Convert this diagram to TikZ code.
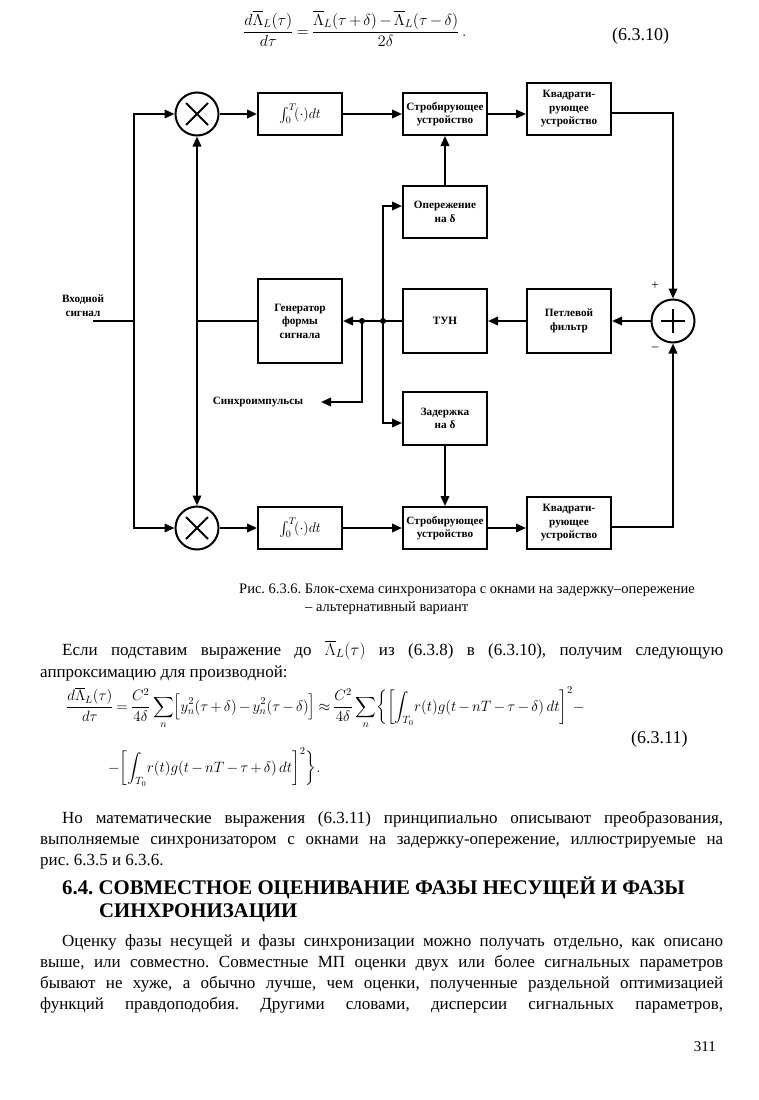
\RequirePackage{fix-cm}
\documentclass[tikz,border=0pt]{standalone}
\usepackage{exscale}
\usepackage{fontspec}
\setmainfont{Liberation Serif}
\usetikzlibrary{arrows.meta,calc}
\begin{document}
\frenchspacing
\begin{tikzpicture}[x=1pt,y=-1pt,
 blk/.style={draw,line width=2pt,minimum width=84pt,inner sep=0pt,align=center,font=\fontsize{11.2}{13.5}\selectfont\bfseries},
 ln/.style={line width=2pt},
 arr/.style={line width=2pt,-{Triangle[length=10pt,width=8.5pt]}},
 mult/.style={draw,circle,line width=2pt,minimum size=43pt,inner sep=0pt},
 jdot/.style={circle,fill,inner sep=0pt,minimum size=6pt},
 lbl/.style={inner sep=0pt,align=center,font=\fontsize{11.2}{13.5}\selectfont\bfseries},
 body/.style={anchor=base west,inner sep=0pt,font=\fontsize{17}{21}\selectfont},
 captxt/.style={anchor=base west,inner sep=0pt,font=\fontsize{14.5}{17}\selectfont},
 headtxt/.style={anchor=base west,inner sep=0pt,font=\fontsize{20.8}{25}\selectfont\bfseries},
 eqn/.style={anchor=base west,inner sep=0pt,font=\fontsize{15}{19}\selectfont},
 eqnum/.style={anchor=base west,inner sep=0pt,font=\fontsize{18}{21}\selectfont}
]
\useasboundingbox (0,0) rectangle (759,1100);
\thickmuskip=3.5mu plus 1mu
\medmuskip=2.5mu plus 1mu

% ---- equation 6.3.10
\node[eqn,font=\fontsize{16}{20}\selectfont] (eqa) at (243,36) {$\displaystyle \frac{d\overline{\Lambda}_L(\tau)}{d\tau}=\frac{\overline{\Lambda}_L(\tau+\delta)-\overline{\Lambda}_L(\tau-\delta)}{2\delta}\,.$};
\node[eqnum] (eqan) at (612,40) {(6.3.10)};

% ---- diagram nodes
\node[mult] (m1) at (197,114) {};
\node[blk,minimum height=42pt,font=\fontsize{14}{16}\selectfont] (i1) at (300,114) {$\int_0^T\!(\cdot)dt$};
\node[blk,minimum height=42pt] (s1) at (445,114) {Стробирующее\\устройство};
\node[blk,minimum height=52pt] (k1) at (569,109) {Квадрати-\\рующее\\устройство};
\node[blk,minimum height=52pt] (op) at (445,212) {Опережение\\на δ};
\node[blk,minimum height=84pt] (gen) at (300,321) {Генератор\\формы\\сигнала};
\node[blk,minimum height=64pt] (tun) at (445,321) {ТУН};
\node[blk,minimum height=64pt] (pf) at (569,321) {Петлевой\\фильтр};
\node[mult] (sum) at (673,321) {};
\node[blk,minimum height=53pt] (zd) at (445,418.5) {Задержка\\на δ};
\node[mult] (m2) at (197,528) {};
\node[blk,minimum height=42pt,font=\fontsize{14}{16}\selectfont] (i2) at (300,528) {$\int_0^T\!(\cdot)dt$};
\node[blk,minimum height=42pt] (s2) at (445,528) {Стробирующее\\устройство};
\node[blk,minimum height=52pt] (k2) at (569,523) {Квадрати-\\рующее\\устройство};

% symbols inside circles
\draw[ln] ($(m1)+(-11,-11)$) -- ($(m1)+(11,11)$);
\draw[ln] ($(m1)+(-11,11)$) -- ($(m1)+(11,-11)$);
\draw[ln] ($(m2)+(-11,-11)$) -- ($(m2)+(11,11)$);
\draw[ln] ($(m2)+(-11,11)$) -- ($(m2)+(11,-11)$);
\draw[ln] ($(sum)+(-12,0)$) -- ($(sum)+(12,0)$);
\draw[ln] ($(sum)+(0,-12)$) -- ($(sum)+(0,12)$);

% labels
\node[lbl] (inlbl) at (83,305.5) {Входной\\сигнал};
\node[lbl] (synclbl) at (258,402) {Синхроимпульсы};
\node[lbl,font=\fontsize{13}{15}\selectfont] (plus) at (655,286) {+};
\node[lbl,font=\fontsize{13}{15}\selectfont] (minus) at (655,349) {–};

% coordinates
\coordinate (in) at (93,321);
\coordinate (jin) at (134,321);
\coordinate (jg) at (197,321);
\coordinate (ja) at (383,321);
\coordinate (jb) at (362,321);
\coordinate (syncend) at (321,402);

% connectors
\draw[ln] (in) -- (jin);
\draw[arr] (jin) |- (m1.west);
\draw[arr] (jin) |- (m2.west);
\draw[ln] (gen.west) -- (jg);
\draw[arr] (jg) -- (m1.south);
\draw[arr] (jg) -- (m2.north);
\draw[arr] (m1.east) -- (i1.west);
\draw[arr] (i1.east) -- (s1.west);
\draw[arr] (s1.east) -- (s1.east -| k1.west);
\draw[arr] ([yshift=-3.7pt]k1.east) -| (sum.north);
\draw[arr] (op.north) -- (s1.south);
\draw[arr] (zd.south) -- (s2.north);
\draw[arr] (sum.west) -- (pf.east);
\draw[arr] (pf.west) -- (tun.east);
\draw[arr] (tun.west) -- (gen.east);
\node[jdot] (da) at (ja) {};
\node[jdot] (db) at (jb) {};
\draw[arr] (ja) |- ([yshift=6pt]op.west);
\draw[arr] (ja) |- ([yshift=-4.5pt]zd.west);
\draw[arr] (jb) |- (syncend);
\draw[arr] (m2.east) -- (i2.west);
\draw[arr] (i2.east) -- (s2.west);
\draw[arr] (s2.east) -- (s2.east -| k2.west);
\draw[arr] ([yshift=-3.7pt]k2.east) -| (sum.south);

% caption
\node[captxt] (cap1) at (239,593) {Рис. 6.3.6. Блок-схема синхронизатора с окнами на задержку–опережение};
\node[captxt] (cap2) at (305,611) {– альтернативный вариант};

% ---- text
\node[body] (t1) at (62,655) {\makebox[661pt][s]{Если подставим выражение до $\overline{\Lambda}_L(\tau)$ из (6.3.8) в (6.3.10), получим следующую}};
\node[body] (t2) at (40,677) {аппроксимацию для производной:};
\node[eqn] (eqb1) at (66,711) {$\displaystyle \frac{d\overline{\Lambda}_L(\tau)}{d\tau}=\frac{C^2}{4\delta}\sum_n\Bigl[y_n^2(\tau+\delta)-y_n^2(\tau-\delta)\Bigr]\approx\frac{C^2}{4\delta}\sum_n\biggl\{\biggl[\int_{T_0}\! r(t)g(t-nT-\tau-\delta)\,dt\biggr]^2-$};
\node[eqn] (eqb2) at (108,772) {$\displaystyle -\biggl[\int_{T_0}\! r(t)g(t-nT-\tau+\delta)\,dt\biggr]^2\biggr\}.$};
\node[eqnum] (eqbn) at (631,743) {(6.3.11)};

\node[body] (t3) at (62,823) {\makebox[661pt][s]{Но математические выражения (6.3.11) принципиально описывают преобразования,}};
\node[body] (t4) at (40,844) {\makebox[683pt][s]{выполняемые синхронизатором с окнами на задержку-опережение, иллюстрируемые на}};
\node[body] (t5) at (40,865) {рис. 6.3.5 и 6.3.6.};

\node[headtxt] (h1) at (62,894) {6.4. СОВМЕСТНОЕ ОЦЕНИВАНИЕ ФАЗЫ НЕСУЩЕЙ И ФАЗЫ};
\node[headtxt] (h2) at (99,917) {СИНХРОНИЗАЦИИ};

\node[body] (t6) at (62,946) {\makebox[661pt][s]{Оценку фазы несущей и фазы синхронизации можно получать отдельно, как описано}};
\node[body] (t7) at (40,967) {\makebox[683pt][s]{выше, или совместно. Совместные МП оценки двух или более сигнальных параметров}};
\node[body] (t8) at (40,988) {\makebox[683pt][s]{бывают не хуже, а обычно лучше, чем оценки, полученные раздельной оптимизацией}};
\node[body] (t9) at (40,1009) {\makebox[683pt][s]{функций правдоподобия. Другими словами, дисперсии сигнальных параметров,}};
\node[body,anchor=base east,font=\fontsize{15}{18}\selectfont] (pg) at (716,1051) {311};
\end{tikzpicture}
\end{document}
